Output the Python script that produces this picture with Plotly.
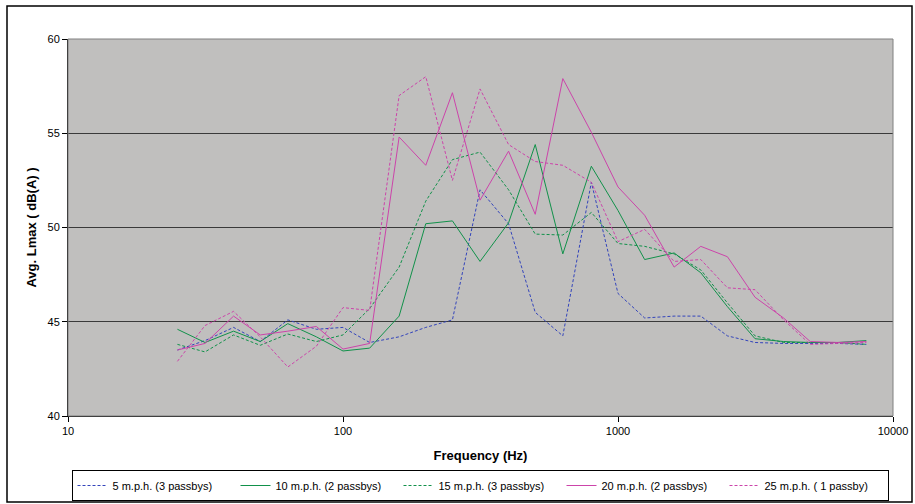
import plotly.graph_objects as go

# 1/3-octave band centre frequencies (Hz)
FREQ = [25, 31.5, 40, 50, 63, 80, 100, 125, 160, 200, 250, 315, 400, 500,
        630, 800, 1000, 1250, 1600, 2000, 2500, 3150, 4000, 5000, 6300, 8000]

MPH5 = [43.5, 44.0, 44.7, 43.95, 45.1, 44.6, 44.7, 43.9, 44.2, 44.7, 45.1, 52.0,
        50.2, 45.5, 44.25, 52.4, 46.5, 45.2, 45.3, 45.3, 44.25, 43.9, 43.85,
        43.85, 43.85, 43.8]
MPH10 = [44.6, 43.9, 44.5, 43.95, 44.9, 44.2, 43.45, 43.6, 45.3, 50.2, 50.35,
         48.2, 50.25, 54.4, 48.6, 53.25, 50.9, 48.3, 48.65, 47.6, 45.8, 44.1,
         43.95, 43.9, 43.9, 44.0]
MPH15 = [43.8, 43.4, 44.3, 43.75, 44.35, 43.95, 44.3, 45.7, 47.9, 51.4, 53.6,
         54.0, 52.0, 49.65, 49.6, 50.8, 49.15, 49.0, 48.6, 47.75, 46.0, 44.25,
         43.9, 43.9, 43.9, 43.8]
MPH20 = [43.5, 43.85, 45.3, 44.3, 44.5, 44.75, 43.55, 43.85, 54.8, 53.3, 57.15,
         51.45, 54.05, 50.7, 57.9, 55.05, 52.15, 50.65, 47.9, 49.0, 48.45, 46.3,
         45.2, 43.95, 43.9, 43.95]
MPH25 = [42.9, 44.8, 45.55, 44.2, 42.6, 43.7, 45.75, 45.6, 57.0, 58.0, 52.5,
         57.35, 54.4, 53.5, 53.3, 52.4, 49.25, 49.9, 48.2, 48.3, 46.8, 46.7,
         45.1, 43.8, 43.85, 43.9]

SERIES = [
    ("5 m.p.h. (3 passbys)", MPH5, "#3344BB", "3px,2px"),
    ("10 m.p.h. (2 passbys)", MPH10, "#11914A", "solid"),
    ("15 m.p.h. (3 passbys)", MPH15, "#11914A", "3px,2px"),
    ("20 m.p.h. (2 passbys)", MPH20, "#CC44AA", "solid"),
    ("25 m.p.h. ( 1 passby)", MPH25, "#CC44AA", "3px,2px"),
]

W, H = 915, 504
ML, MR, MT, MB = 68, 22, 39, 88

fig = go.Figure()
for name, vals, color, dash in SERIES:
    fig.add_scatter(x=FREQ, y=vals, name=name, mode="lines",
                    line=dict(color=color, width=1, dash=dash))

pw, ph = W - ML - MR, H - MT - MB
def px_x(p):
    return (p - ML) / pw
def px_y(p):
    return (H - MB - p) / ph

# outer chart frame
fig.add_shape(type="rect", xref="paper", yref="paper",
              x0=px_x(7), x1=px_x(912), y0=px_y(502), y1=px_y(6),
              line=dict(color="black", width=1.5), layer="below")

fig.update_layout(
    width=W, height=H,
    margin=dict(l=ML, r=MR, t=MT, b=MB, autoexpand=False),
    paper_bgcolor="white",
    plot_bgcolor="#C0BFBE",
    font=dict(family="Liberation Sans, Arial, sans-serif", size=11, color="black"),
    showlegend=True,
    legend=dict(
        orientation="h", xref="container", yref="container",
        x=480 / W, xanchor="center", y=1 - 470 / H, yanchor="top",
        bordercolor="black", borderwidth=1, bgcolor="white",
        entrywidth=118, entrywidthmode="pixels",
        font=dict(size=11), itemwidth=30, tracegroupgap=0,
    ),
)
fig.update_xaxes(
    type="log", range=[1, 4], tickvals=[10, 100, 1000, 10000],
    ticktext=["10", "100", "1000", "10000"],
    ticks="outside", ticklen=5, tickcolor="black",
    showline=True, linecolor="black", linewidth=1, mirror=False,
    showgrid=False, zeroline=False,
    title=dict(text="<b>Frequency (Hz)</b>", standoff=14),
)
fig.update_yaxes(
    range=[40, 60], tickvals=[40, 45, 50, 55, 60],
    ticks="outside", ticklen=5, tickcolor="black",
    showline=True, linecolor="black", linewidth=1,
    showgrid=True, gridcolor="#3a3a3a", gridwidth=1, zeroline=False,
    title=dict(text="<b>Avg. Lmax ( dB(A) )</b>", standoff=7),
)
# grey frame on top and right of plot area
fig.add_shape(type="rect", xref="paper", yref="paper", x0=0, x1=1, y0=0, y1=1,
              line=dict(color="#808080", width=1))

fig.write_html("out.html", config={"displayModeBar": False},
               post_script="document.body.style.margin='0';")
